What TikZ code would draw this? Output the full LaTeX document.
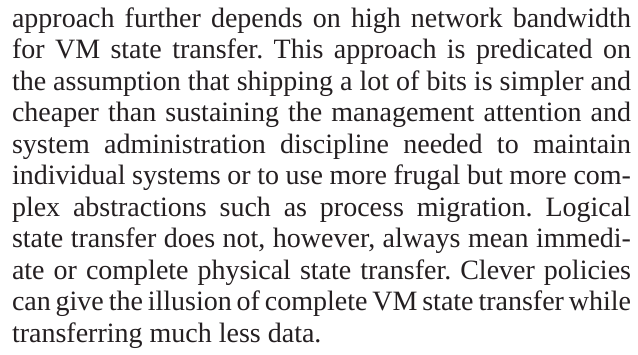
\documentclass[tikz,border=0pt]{standalone}
\usepackage{fontspec}
\setmainfont{Liberation Serif}
\usepackage{tikz}
\usetikzlibrary{positioning}
\definecolor{inkgray}{rgb}{0.14,0.12,0.13}
\newlength\linelength
\setlength\linelength{309.5pt}
\newcommand{\fullline}[2]{%
	\node[textline] (line#1) at ({6pt},{-13.5pt-15.75pt*(#1-1)}) {\makebox[\linelength][s]{#2}};
}
\newcommand{\lastline}[2]{%
	\node[textline] (line#1) at ({6pt},{-13.5pt-15.75pt*(#1-1)}) {#2};
}
\tikzset{textline/.style={anchor=base west, inner sep=0pt, outer sep=0pt, text=inkgray, font=\fontsize{14pt}{15.75pt}\selectfont}}

\begin{document}
\frenchspacing
\begin{tikzpicture}

	\useasboundingbox (0,0) rectangle (319pt,-177pt);
	\fill[white] (0,0) rectangle (319pt,-177pt);

	\fullline{1}{approach further depends on high network bandwidth}
	\fullline{2}{for VM state transfer. This approach is predicated on}
	\fullline{3}{the assumption that shipping a lot of bits is simpler and}
	\fullline{4}{cheaper than sustaining the management attention and}
	\fullline{5}{system administration discipline needed to maintain}
	\fullline{6}{individual systems or to use more frugal but more com-}
	\fullline{7}{plex abstractions such as process migration. Logical}
	\fullline{8}{state transfer does not, however, always mean immedi-}
	\fullline{9}{ate or complete physical state transfer. Clever policies}
	\fullline{10}{can give the illusion of complete VM state transfer while}
	\lastline{11}{transferring much less data.}

\end{tikzpicture}
\end{document}
